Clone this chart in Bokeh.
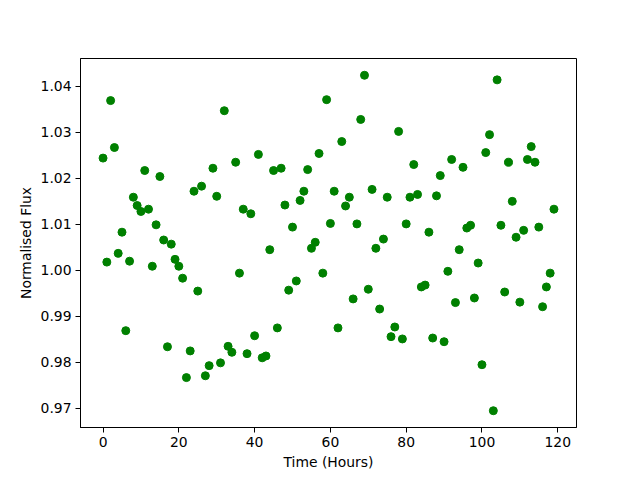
from bokeh.plotting import figure
from bokeh.models import Range1d, FixedTicker, PrintfTickFormatter, ColumnDataSource
from bokeh.embed import file_html
from bokeh.resources import INLINE

hours = list(range(120))
flux = [
    1.0244, 1.0018, 1.0369, 1.0267, 1.0037, 1.0083, 0.9869, 1.0020, 1.0159, 1.0141,
    1.0128, 1.0217, 1.0133, 1.0009, 1.0099, 1.0204, 1.0066, 0.9834, 1.0057, 1.0024,
    1.0009, 0.9983, 0.9767, 0.9825, 1.0172, 0.9955, 1.0183, 0.9771, 0.9793, 1.0222,
    1.0161, 0.9799, 1.0347, 0.9835, 0.9822, 1.0235, 0.9994, 1.0133, 0.9819, 1.0123,
    0.9858, 1.0252, 0.9810, 0.9814, 1.0045, 1.0217, 0.9875, 1.0222, 1.0142, 0.9957,
    1.0094, 0.9977, 1.0152, 1.0172, 1.0219, 1.0048, 1.0061, 1.0254, 0.9994, 1.0371,
    1.0102, 1.0172, 0.9875, 1.0280, 1.0140, 1.0159, 0.9938, 1.0101, 1.0328, 1.0424,
    0.9959, 1.0176, 1.0048, 0.9916, 1.0068, 1.0159, 0.9856, 0.9877, 1.0302, 0.9851,
    1.0101, 1.0159, 1.0230, 1.0165, 0.9964, 0.9968, 1.0083, 0.9853, 1.0162, 1.0206,
    0.9845, 0.9998, 1.0241, 0.9930, 1.0045, 1.0224, 1.0092, 1.0098, 0.9940, 1.0016,
    0.9795, 1.0256, 1.0295, 0.9695, 1.0414, 1.0098, 0.9953, 1.0235, 1.0150, 1.0072,
    0.9931, 1.0087, 1.0241, 1.0269, 1.0235, 1.0094, 0.9921, 0.9964, 0.9994, 1.0133,
]
x_ticks = [0, 20, 40, 60, 80, 100, 120]
y_ticks = [0.97, 0.98, 0.99, 1.00, 1.01, 1.02, 1.03, 1.04]
x_label = "Time (Hours)"
y_label = "Normalised Flux"


def padded(vals, frac=0.05):
    lo, hi = min(vals), max(vals)
    span = hi - lo
    return lo - frac * span, hi + frac * span


xs, xe = padded(hours)
ys, ye = padded(flux)

p = figure(width=640, height=480, output_backend="svg", toolbar_location=None,
           x_range=Range1d(xs, xe), y_range=Range1d(ys, ye),
           min_border_left=80, min_border_right=64, min_border_top=58, min_border_bottom=53)
p.background_fill_color = "white"
p.border_fill_color = "white"
p.outline_line_color = "black"
p.outline_line_width = 1
p.xgrid.visible = False
p.ygrid.visible = False

src = ColumnDataSource(dict(x=hours, y=flux))
p.scatter("x", "y", source=src, size=8, fill_color="green", line_color="green", line_width=1)

FONT = "DejaVu Sans"
for ax in (p.xaxis[0], p.yaxis[0]):
    ax.major_label_text_font = FONT
    ax.major_label_text_font_size = "13.9px"
    ax.major_label_text_color = "black"
    ax.axis_label_text_font = FONT
    ax.axis_label_text_font_size = "13.9px"
    ax.axis_label_text_font_style = "normal"
    ax.axis_label_text_color = "black"
    ax.major_tick_in = 0
    ax.major_tick_out = 5
    ax.minor_tick_in = 0
    ax.minor_tick_out = 0
    ax.major_tick_line_color = "black"
    ax.axis_line_color = "black"
    ax.major_label_standoff = 4
    ax.axis_label_standoff = 4

p.xaxis[0].ticker = FixedTicker(ticks=x_ticks)
p.xaxis[0].formatter = PrintfTickFormatter(format="%d")
p.xaxis[0].axis_label = x_label
p.yaxis[0].ticker = FixedTicker(ticks=y_ticks)
p.yaxis[0].formatter = PrintfTickFormatter(format="%.2f")
p.yaxis[0].axis_label = y_label

open("out.html", "w").write(file_html(p, INLINE))
